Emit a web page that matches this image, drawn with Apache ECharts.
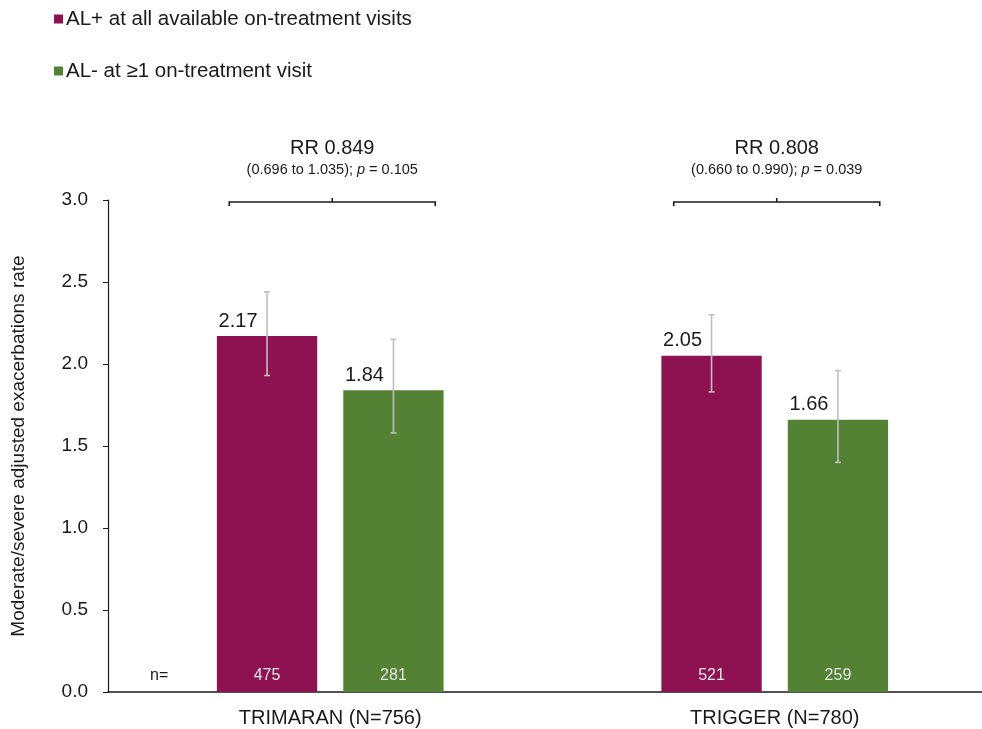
<!DOCTYPE html>
<html>
<head>
<meta charset="utf-8">
<title>Exacerbation rate by adherence</title>
<script src="https://cdn.jsdelivr.net/npm/echarts@6/dist/echarts.min.js"></script>
<style>
  html, body { margin: 0; padding: 0; background: #fff; }
  #chart { width: 982px; height: 729px; }
</style>
</head>
<body>
<div id="chart"></div>
<script>
// Study arms and groups
const categories = ['TRIMARAN (N=756)', 'TRIGGER (N=780)'];
const seriesNames = ['AL+ at all available on-treatment visits', 'AL- at \u22651 on-treatment visit'];

// Adjusted rates, 95% CI bounds and group sizes
const alPlusRate = [2.17, 2.05];
const alPlusLow = [1.93, 1.83];
const alPlusHigh = [2.44, 2.30];
const alPlusN = [475, 521];

const alMinusRate = [1.84, 1.66];
const alMinusLow = [1.58, 1.40];
const alMinusHigh = [2.15, 1.96];
const alMinusN = [281, 259];

// Rate ratio comparisons per study
const rrValue = ['0.849', '0.808'];
const rrCI = ['(0.696 to 1.035)', '(0.660 to 0.990)'];
const rrP = ['0.105', '0.039'];

const yTicks = { min: 0, max: 3, interval: 0.5 };

const COLORS = ['#8E1251', '#548235'];
const FONT = "'Liberation Sans', Arial, sans-serif";
const NARROW = "'Liberation Sans Narrow', 'Arial Narrow', 'Liberation Sans', sans-serif";
const TEXT = '#1a1a1a';
const BAR_CAT_GAP = 0.49;
const BAR_GAP = 0.26;

const chart = echarts.init(document.getElementById('chart'));

// offset of a bar's centre from its category centre
function barGeom(api, slot) {
  const band = api.size([1, 0])[0];
  const w = band * (1 - BAR_CAT_GAP) / (2 + BAR_GAP);
  const off = (w + w * BAR_GAP) / 2;
  return { w: w, off: slot === 0 ? -off : off };
}

function errorSeries(slot, low, high, nVals) {
  return {
    type: 'custom',
    name: seriesNames[slot] + ' CI',
    clip: false,
    z: 5,
    silent: true,
    data: low.map((l, i) => [i, l, high[i], nVals[i]]),
    renderItem: function (params, api) {
      const g = barGeom(api, slot);
      const lo = api.coord([api.value(0), api.value(1)]);
      const hi = api.coord([api.value(0), api.value(2)]);
      const base = api.coord([api.value(0), 0]);
      const x = lo[0] + g.off;
      const cap = 3;
      const style = { stroke: '#BFBFBF', lineWidth: 1.6 };
      return {
        type: 'group',
        children: [
          { type: 'line', shape: { x1: x, y1: hi[1], x2: x, y2: lo[1] }, style: style },
          { type: 'line', shape: { x1: x - cap, y1: hi[1], x2: x + cap, y2: hi[1] }, style: style },
          { type: 'line', shape: { x1: x - cap, y1: lo[1], x2: x + cap, y2: lo[1] }, style: style },
          {
            type: 'text',
            style: {
              x: x, y: base[1] - 16, text: String(api.value(3)),
              align: 'center', verticalAlign: 'middle',
              fill: '#E6E6E6', font: '16px ' + NARROW
            }
          }
        ]
      };
    }
  };
}

const valueLabel = {
  show: true, position: 'top', offset: [-29, 0],
  fontSize: 20, color: TEXT, fontFamily: FONT,
  formatter: p => p.value.toFixed(2)
};

const option = {
  backgroundColor: '#fff',
  animation: false,
  textStyle: { fontFamily: FONT },
  legend: {
    orient: 'vertical',
    left: 49,
    top: 3,
    itemWidth: 9,
    itemHeight: 9,
    itemGap: 30,
    icon: 'rect',
    data: seriesNames,
    textStyle: { fontSize: 20.5, color: TEXT, lineHeight: 22, fontFamily: FONT, padding: [0, 0, 0, -2] }
  },
  // the plot area runs a little past the right edge of the page
  grid: { left: 108, right: -15, top: 200, bottom: 37, outerBoundsMode: 'none', containLabel: false },
  xAxis: {
    type: 'category',
    data: categories,
    axisLine: { lineStyle: { color: '#1a1a1a', width: 1.5 } },
    axisTick: { show: false },
    axisLabel: { fontSize: 20, color: TEXT, margin: 16, fontFamily: FONT }
  },
  yAxis: {
    type: 'value',
    min: yTicks.min,
    max: yTicks.max,
    interval: yTicks.interval,
    name: 'Moderate/severe adjusted exacerbations rate',
    nameLocation: 'middle',
    nameRotate: 90,
    nameGap: 80,
    nameTextStyle: { fontSize: 19, color: TEXT, fontFamily: FONT },
    axisLine: { show: true, lineStyle: { color: '#1a1a1a', width: 1.2 } },
    axisTick: { show: true, length: 5, lineStyle: { color: '#1a1a1a' } },
    splitLine: { show: false },
    axisLabel: {
      fontSize: 19, color: TEXT, margin: 20, fontFamily: FONT,
      formatter: v => v.toFixed(1)
    }
  },
  graphic: [
    {
      type: 'text', left: 150, top: 668,
      style: { text: 'n=', fill: TEXT, font: '16px ' + NARROW }
    }
  ],
  series: [
    {
      type: 'bar',
      name: seriesNames[0],
      data: alPlusRate,
      itemStyle: { color: COLORS[0] },
      barCategoryGap: (BAR_CAT_GAP * 100) + '%',
      barGap: (BAR_GAP * 100) + '%',
      label: valueLabel
    },
    {
      type: 'bar',
      name: seriesNames[1],
      data: alMinusRate,
      itemStyle: { color: COLORS[1] },
      barCategoryGap: (BAR_CAT_GAP * 100) + '%',
      barGap: (BAR_GAP * 100) + '%',
      label: valueLabel
    },
    errorSeries(0, alPlusLow, alPlusHigh, alPlusN),
    errorSeries(1, alMinusLow, alMinusHigh, alMinusN),
    {
      // comparison brackets with rate ratio text
      type: 'custom',
      name: 'RR',
      clip: false,
      silent: true,
      z: 6,
      data: categories.map((c, i) => [i, yTicks.max]),
      renderItem: function (params, api) {
        const i = params.dataIndex;
        const p = api.coord([api.value(0), api.value(1)]);
        const cx = p[0] + 2;
        const y = p[1] + 2;
        const half = 103;
        const style = { stroke: '#1a1a1a', lineWidth: 1.6, fill: null };
        return {
          type: 'group',
          children: [
            {
              type: 'polyline',
              shape: { points: [[cx - half, y + 4], [cx - half, y], [cx + half, y], [cx + half, y + 4]] },
              style: style
            },
            { type: 'line', shape: { x1: cx, y1: y, x2: cx, y2: y - 4 }, style: style },
            {
              type: 'text',
              style: {
                x: cx, y: y - 54, text: 'RR ' + rrValue[i],
                align: 'center', verticalAlign: 'middle',
                fill: TEXT, font: '20px ' + FONT
              }
            },
            {
              type: 'text',
              style: {
                x: cx, y: y - 32,
                text: rrCI[i] + '; {i|p} = ' + rrP[i],
                align: 'center', verticalAlign: 'middle',
                fill: TEXT, font: '14.5px ' + FONT,
                rich: { i: { fontStyle: 'italic', fontSize: 14.5, fontFamily: FONT, fill: TEXT } }
              }
            }
          ]
        };
      }
    }
  ]
};

chart.setOption(option);
</script>
</body>
</html>
